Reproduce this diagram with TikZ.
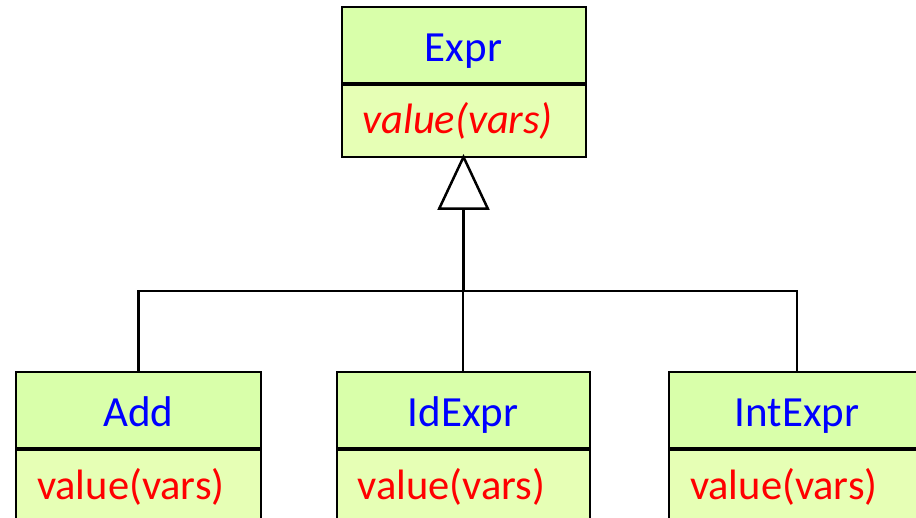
\documentclass[tikz,border=0pt]{standalone}
\usepackage{fontspec}
\setmainfont{Carlito}
\usetikzlibrary{arrows.meta}

\definecolor{headgreen}{RGB}{217,255,170}
\definecolor{bodygreen}{RGB}{230,255,181}

\tikzset{
  classhead/.style={draw=black,line width=2pt,fill=headgreen,minimum height=76pt,
    inner sep=0pt,text height=36pt,text depth=2pt,text=blue,
    font=\fontsize{43}{50}\selectfont},
  classbody/.style={draw=black,line width=2pt,fill=bodygreen,minimum height=72pt,
    inner xsep=21pt,inner ysep=0pt,text height=30pt,text depth=4pt,align=left,text=red,
    font=\fontsize{42.5}{50}\selectfont},
  link/.style={line width=2.5pt,line cap=rect}
}

\begin{document}
\begin{tikzpicture}[x=1pt,y=-1pt]
    \useasboundingbox (0,0) rectangle (916,518);
    % superclass
    \node[classhead,minimum width=244pt] (expr) at (463.5,45) {Expr};
    \node[classbody,text width=202pt,anchor=north] (expr-ops) at (expr.south) {\itshape value(vars)};
    % subclasses
    \node[classhead,minimum width=245pt] (add) at (138.5,410) {Add};
    \node[classbody,text width=203pt,anchor=north] (add-ops) at (add.south) {value(vars)};
    \node[classhead,minimum width=253pt] (idexpr) at (463,410) {IdExpr};
    \node[classbody,text width=211pt,anchor=north] (idexpr-ops) at (idexpr.south) {value(vars)};
    \node[classhead,minimum width=256pt] (intexpr) at (797,410) {IntExpr};
    \node[classbody,text width=214pt,anchor=north] (intexpr-ops) at (intexpr.south) {value(vars)};
    % generalisation
    \coordinate (bar) at (463.5,291);
    \draw[link] (add.north) |- (bar) -| (intexpr.north);
    \draw[link] (idexpr.north) -- (idexpr.north |- bar);
    \draw[line width=3pt,shorten >=-4pt,-{Triangle[open,length=56pt,width=52pt,line width=2.5pt]}] (bar) -- (expr-ops.south);
\end{tikzpicture}
\end{document}
